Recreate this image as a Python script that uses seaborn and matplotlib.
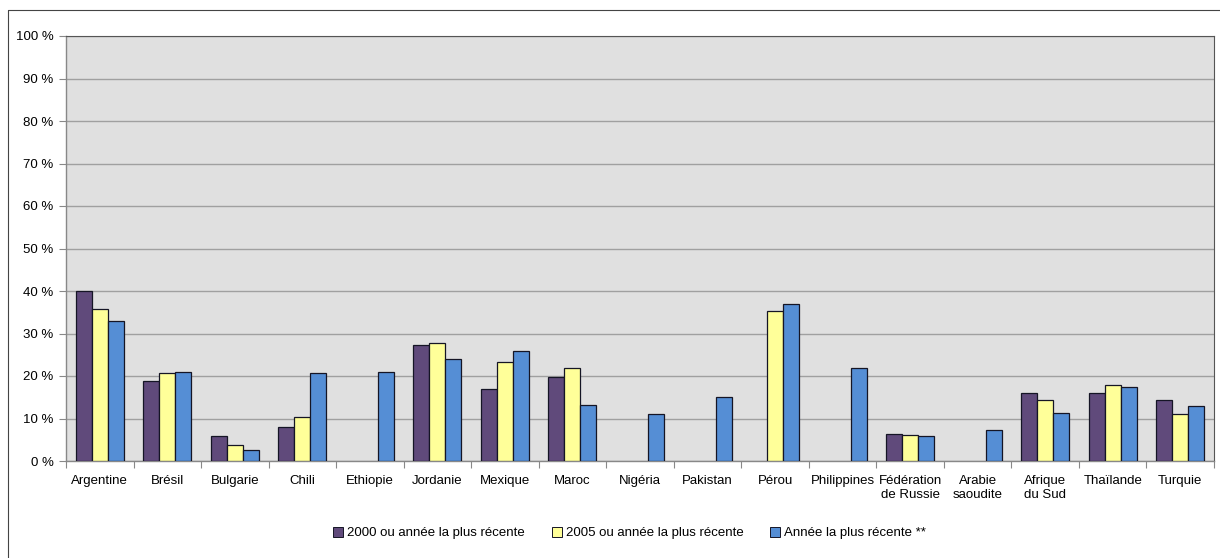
import numpy as np
import pandas as pd
import seaborn as sns
import matplotlib.pyplot as plt
from matplotlib.lines import Line2D
from matplotlib.ticker import FixedLocator

countries = ['Argentine', 'Brésil', 'Bulgarie', 'Chili', 'Ethiopie', 'Jordanie',
             'Mexique', 'Maroc', 'Nigéria', 'Pakistan', 'Pérou', 'Philippines',
             'Fédération\nde Russie', 'Arabie\nsaoudite', 'Afrique\ndu Sud',
             'Thaïlande', 'Turquie']
series = ['2000 ou année la plus récente', '2005 ou année la plus récente',
          'Année la plus récente **']
v2000 = [40.0, 18.8, 5.9, 8.1, np.nan, 27.2, 16.9, 19.8, np.nan, np.nan, np.nan,
         np.nan, 6.4, np.nan, 16.0, 15.9, 14.4]
v2005 = [35.7, 20.6, 3.7, 10.4, np.nan, 27.7, 23.4, 21.8, np.nan, np.nan, 35.2,
         np.nan, 6.1, np.nan, 14.3, 18.0, 11.0]
vrecent = [33.0, 20.9, 2.7, 20.6, 20.9, 23.9, 26.0, 13.1, 11.0, 15.1, 36.9,
           21.8, 5.9, 7.4, 11.4, 17.3, 12.9]
colors = ['#604a7b', '#ffff99', '#558ed5']

df = pd.DataFrame({'pays': countries * 3,
                   'serie': [series[0]] * 17 + [series[1]] * 17 + [series[2]] * 17,
                   'valeur': v2000 + v2005 + vrecent})

sns.set_style('white')
plt.rcParams['font.family'] = ['Liberation Sans', 'DejaVu Sans']
plt.rcParams['text.color'] = 'black'
plt.rcParams['xtick.labelcolor'] = 'black'
plt.rcParams['ytick.labelcolor'] = 'black'

fig = plt.figure(figsize=(12.2, 5.58), dpi=100)
ax = fig.add_axes([66 / 1220, 1 - 461 / 558, (1214 - 66) / 1220, (461 - 36) / 558])
ax.set_facecolor('#e0e0e0')

sns.barplot(data=df, x='pays', y='valeur', hue='serie', hue_order=series,
            palette=colors, saturation=1, width=0.71, edgecolor='#151525',
            linewidth=0.9, errorbar=None, ax=ax, legend=False, zorder=3)

ax.set_ylim(0, 100)
ax.set_xlim(-0.5, len(countries) - 0.5)
ax.set_yticks(np.arange(0, 101, 10))
ax.set_yticklabels([f'{v} %' for v in range(0, 101, 10)], fontsize=9.5)
ax.yaxis.grid(True, color='#a0a0a0', linewidth=1, zorder=0)
ax.set_axisbelow(True)
ax.tick_params(axis='y', length=5, width=0.8, color='#888888', pad=4, left=True,
               labelcolor='black')
ax.tick_params(axis='x', length=0, pad=10, labelsize=9.5, labelcolor='black')
ax.xaxis.set_minor_locator(FixedLocator(np.arange(-0.5, len(countries), 1)))
ax.tick_params(axis='x', which='minor', length=5, width=0.8, color='#888888',
               bottom=True)
ax.set_xlabel('')
ax.set_ylabel('')
for side in ['left', 'bottom']:
    ax.spines[side].set_color('#888888')
    ax.spines[side].set_linewidth(1)
for side in ['top', 'right']:
    ax.spines[side].set_color('#555555')
    ax.spines[side].set_linewidth(0.8)

handles = [Line2D([], [], marker='s', linestyle='', markersize=7,
                  markerfacecolor=c, markeredgecolor='#151525', markeredgewidth=0.7)
           for c in colors]
fig.legend(handles, series, loc='center', bbox_to_anchor=(0.516, 1 - 533 / 558),
           ncol=3, frameon=False, fontsize=9.5, handletextpad=0.3,
           columnspacing=2.0, handlelength=0.8, labelcolor='black')

# cadre extérieur
fig.add_artist(Line2D([8 / 1220, 8 / 1220], [0, 1 - 10 / 558], color='#444444',
                      linewidth=0.8, transform=fig.transFigure))
fig.add_artist(Line2D([8 / 1220, 1], [1 - 10 / 558, 1 - 10 / 558], color='#444444',
                      linewidth=0.8, transform=fig.transFigure))

fig.savefig('out.png', dpi=100)
